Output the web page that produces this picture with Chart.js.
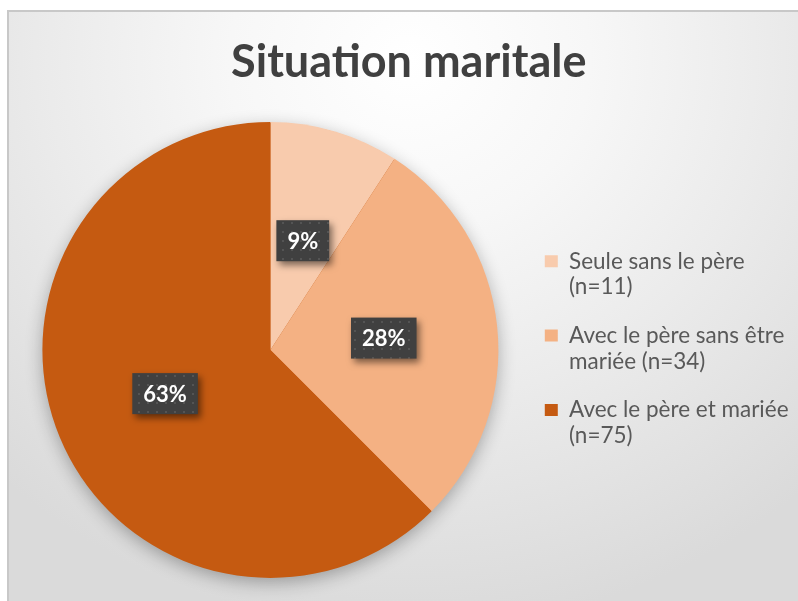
<!DOCTYPE html>
<html><head><meta charset="utf-8">
<script src="https://cdn.jsdelivr.net/npm/chart.js@4.4.1/dist/chart.umd.min.js"></script>
<style>
html,body{margin:0;padding:0;overflow:hidden;width:798px;height:601px;background:#ffffff;}
#frame{position:absolute;left:7px;top:10px;width:801px;height:600px;border:2px solid #c8c8c8;
background:radial-gradient(ellipse 75% 95% at 50% 8%, #ffffff 0%, #f7f7f7 30%, #ebebeb 60%, #dadada 100%);}
#c{position:absolute;left:0;top:0;}
</style></head><body>
<div id="frame"><canvas id="c" width="801" height="600"></canvas></div>
<script>
// ---- data ----
const titleText = 'Situation maritale';
const categories = [
  ['Seule sans le père', '(n=11)'],
  ['Avec le père sans être', 'mariée (n=34)'],
  ['Avec le père et mariée', '(n=75)']
];
const counts = [11, 34, 75];
const sliceColors = ['#F8CBAD', '#F4B183', '#C55A11'];

// ---- layout helpers ----
const legendFontSize = 22.5;
const legendPad = 23;
const legendBoxW = 13;
const mctx = document.createElement('canvas').getContext('2d');
mctx.font = legendFontSize + 'px Lato';
let longest = '';
categories.forEach(l => l.forEach(s => { if (s.length > longest.length) longest = s; }));
const textW = mctx.measureText(longest).width;
const legendWidth = legendPad + legendBoxW + legendFontSize / 2 + textW + 10 + 3;
const legendLeft = 514;
const padRight = 801 - legendLeft - legendWidth;

// dot pattern for label boxes
const pc = document.createElement('canvas');
pc.width = 9; pc.height = 9;
const pctx = pc.getContext('2d');
pctx.fillStyle = '#404040'; pctx.fillRect(0, 0, 9, 9);
pctx.fillStyle = '#545454'; pctx.fillRect(3, 3, 2, 2);

const shadowPlugin = {
  id: 'pieShadow',
  beforeDatasetsDraw(chart) {
    const arc = chart.getDatasetMeta(0).data[0];
    if (!arc) return;
    const ctx = chart.ctx;
    ctx.save();
    ctx.shadowColor = 'rgba(0,0,0,0.32)';
    ctx.shadowBlur = 18;
    ctx.shadowOffsetY = 5;
    ctx.beginPath();
    ctx.arc(arc.x, arc.y, arc.outerRadius - 1, 0, Math.PI * 2);
    ctx.fillStyle = sliceColors[2];
    ctx.fill();
    ctx.restore();
  }
};

const labelPlugin = {
  id: 'pctLabels',
  afterDatasetsDraw(chart) {
    const ctx = chart.ctx;
    const ds = chart.data.datasets[0].data;
    const total = ds.reduce((a, b) => a + b, 0);
    const pattern = ctx.createPattern(pc, 'repeat');
    chart.getDatasetMeta(0).data.forEach((arc, i) => {
      const p = arc.getCenterPoint();
      const txt = Math.round(ds[i] / total * 100) + '%';
      ctx.save();
      ctx.font = 'bold 22px Lato';
      const w = ctx.measureText(txt).width + 22;
      const h = 41;
      const x = p.x - w / 2, y = p.y - h / 2;
      ctx.shadowColor = 'rgba(0,0,0,0.5)';
      ctx.shadowBlur = 7;
      ctx.shadowOffsetX = 3;
      ctx.shadowOffsetY = 4;
      ctx.fillStyle = pattern;
      ctx.fillRect(x, y, w, h);
      ctx.shadowColor = 'transparent';
      ctx.fillStyle = '#ffffff';
      ctx.textAlign = 'center';
      ctx.textBaseline = 'middle';
      ctx.fillText(txt, p.x, p.y + 1);
      ctx.restore();
    });
  }
};

new Chart(document.getElementById('c'), {
  type: 'pie',
  data: {
    labels: categories,
    datasets: [{ data: counts, backgroundColor: sliceColors, borderWidth: 0 }]
  },
  options: {
    responsive: false,
    animation: false,
    devicePixelRatio: 1,
    layout: { padding: { left: 10, right: padRight, top: 0, bottom: 34 } },
    plugins: {
      title: {
        display: true,
        text: titleText,
        color: '#404040',
        font: { family: 'Lato', size: 45, weight: 'bold', lineHeight: 1.2 },
        padding: { top: 23, bottom: 33 }
      },
      legend: {
        display: true,
        position: 'right',
        fullSize: false,
        labels: {
          color: '#595959',
          font: { family: 'Lato', size: legendFontSize, lineHeight: 1.14 },
          boxWidth: legendBoxW,
          boxHeight: 12,
          padding: legendPad
        }
      },
      tooltip: { enabled: false }
    }
  },
  plugins: [shadowPlugin, labelPlugin]
});
</script>
</body></html>
